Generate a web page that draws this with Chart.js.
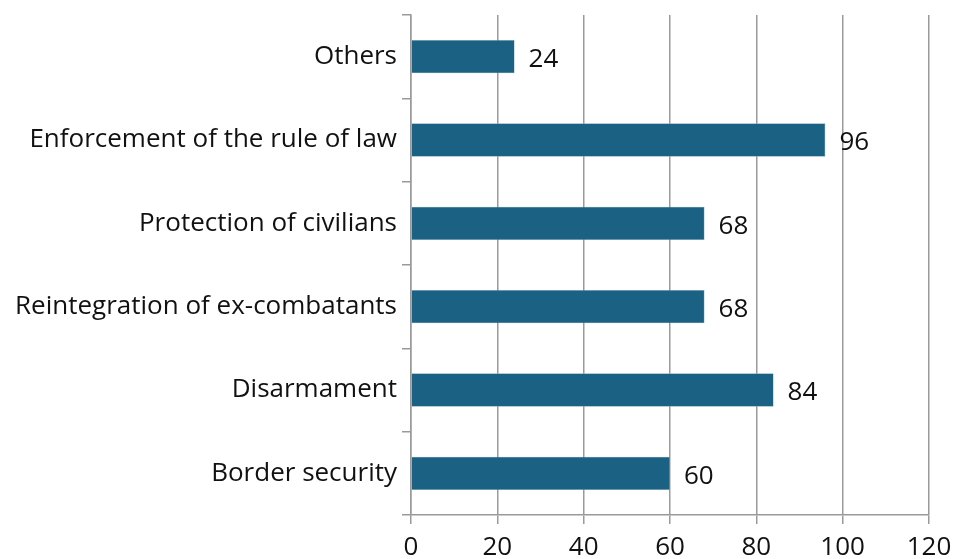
<!DOCTYPE html>
<html>
<head>
<meta charset="utf-8">
<script src="https://cdn.jsdelivr.net/npm/chart.js@4.4.1/dist/chart.umd.min.js"></script>
<style>
  html, body { margin: 0; padding: 0; background: #fff; }
  #wrap { width: 954px; height: 559px; }
</style>
</head>
<body>
<div id="wrap"><canvas id="chart" width="954" height="559"></canvas></div>
<script>
// categories top to bottom, as in the picture
const categories = ['Others', 'Enforcement of the rule of law', 'Protection of civilians',
  'Reintegration of ex-combatants', 'Disarmament', 'Border security'];
const values = [24, 96, 68, 68, 84, 60];
const xTicks = [0, 20, 40, 60, 80, 100, 120];

const FONT = '"Open Sans", "Noto Sans", sans-serif';
const GRID = '#9a9a9a';

// value labels to the right of each bar
const valueLabels = {
  id: 'valueLabels',
  afterDatasetsDraw(chart) {
    const ctx = chart.ctx;
    const meta = chart.getDatasetMeta(0);
    ctx.save();
    ctx.font = '26px ' + FONT;
    ctx.fillStyle = '#111';
    ctx.textAlign = 'left';
    ctx.textBaseline = 'middle';
    meta.data.forEach((bar, i) => {
      ctx.fillText(String(values[i]), bar.x + 14, bar.y + 3);
    });
    ctx.restore();
  }
};

new Chart(document.getElementById('chart'), {
  type: 'bar',
  data: {
    labels: categories,
    datasets: [{
      data: values,
      backgroundColor: '#1b6183',
      borderColor: '#7fa6ba',
      borderWidth: 0.6,
      barPercentage: 0.4,
      categoryPercentage: 1
    }]
  },
  options: {
    indexAxis: 'y',
    responsive: false,
    animation: false,
    layout: { padding: { top: 15, right: 25, left: 0, bottom: 0 } },
    plugins: { legend: { display: false }, tooltip: { enabled: false } },
    scales: {
      x: {
        min: 0, max: 120,
        afterBuildTicks: (s) => { s.ticks = xTicks.map(v => ({ value: v })); },
        afterFit: (s) => { s.height = 44; s.paddingLeft = 0; s.paddingRight = 0; },
        grid: { color: GRID, lineWidth: 1.5, tickLength: 9, drawTicks: true },
        border: { color: GRID, width: 1.5 },
        ticks: { color: '#111', font: { family: FONT, size: 26 }, padding: 8 }
      },
      y: {
        afterFit: (s) => { s.width = 411; s.paddingTop = 0; s.paddingBottom = 0; },
        grid: { offset: true, drawOnChartArea: false, color: GRID, lineWidth: 1.5, tickLength: 9 },
        border: { color: GRID, width: 1.5 },
        ticks: { color: '#111', font: { family: FONT, size: 26 }, padding: 5 }
      }
    }
  },
  plugins: [valueLabels]
});
</script>
</body>
</html>
